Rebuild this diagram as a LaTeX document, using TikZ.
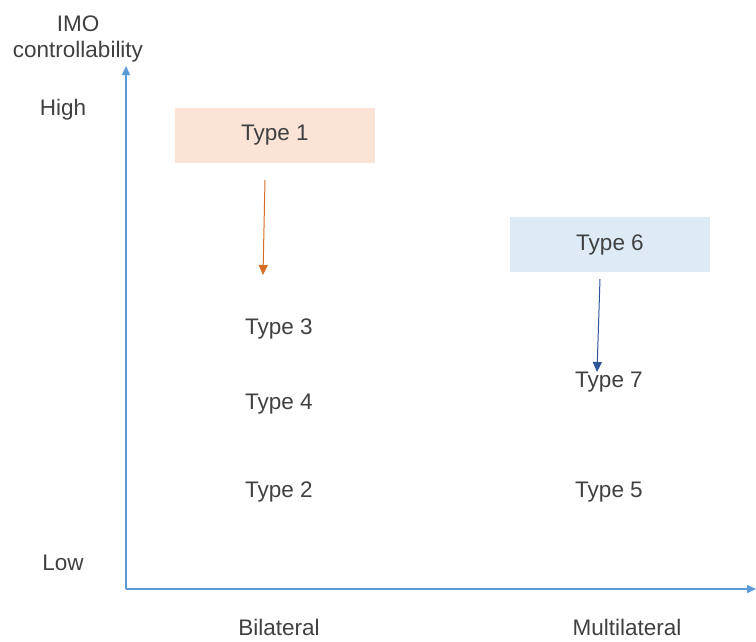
\documentclass[tikz,border=0pt]{standalone}
\usepackage{fontspec}
\setmainfont{Liberation Sans}
\usetikzlibrary{positioning, arrows.meta}
\definecolor{AxisBlue}{RGB}{91, 155, 213}
\definecolor{TextGray}{RGB}{64, 64, 64}
\definecolor{LightOrange}{RGB}{251, 228, 214}
\definecolor{LightBlue}{RGB}{222, 235, 247}
\definecolor{AccentOrange}{RGB}{214, 110, 40}
\definecolor{DarkBlue}{RGB}{47, 85, 151}

\begin{document}
\begin{tikzpicture}[x=1pt, y=-1pt,
    txt/.style={font=\fontsize{22.5}{26}\selectfont, text=TextGray, inner sep=0pt},
    typebox/.style={txt, minimum width=200pt, minimum height=55pt}]
      \useasboundingbox (0,0) rectangle (756,641);

      % Axes
      \coordinate (orig) at (126,589);
      \coordinate (ytop) at (126,66);
      \coordinate (xend) at (756,589);
      \draw[AxisBlue, line width=1.5pt, -{Triangle[length=9pt, width=8pt]}] (orig) -- (ytop);
      \draw[AxisBlue, line width=1.5pt, -{Triangle[length=9pt, width=8pt]}] (orig) -- (xend);

      % Axis labels
      \node[txt] (imo) at (78,24) {IMO};
      \node[txt] (ctrl) at (78,52) {controllability};
      \node[txt] (high) at (63,110) {High};
      \node[txt] (low) at (63,563) {Low};
      \node[txt] (bilat) at (279,627) {Bilateral};
      \node[txt] (multi) at (627,627) {Multilateral};

      % Boxes
      \node[typebox, fill=LightOrange] (t1) at (275,135.5) {Type 1};
      \node[typebox, fill=LightBlue] (t6) at (610,244.5) {Type 6};

      % Other types
      \node[txt] (t3) at (279,329) {Type 3};
      \node[txt] (t4) at (279,404) {Type 4};
      \node[txt] (t2) at (279,492) {Type 2};
      \node[txt] (t7) at (609,382) {Type 7};
      \node[txt] (t5) at (609,492) {Type 5};

      % Shifts
      \coordinate (a1s) at (265,180);
      \coordinate (a1e) at (263,275);
      \coordinate (a6s) at (600,279);
      \coordinate (a6e) at (597,372);
      \draw[AccentOrange, line width=1pt, -{Triangle[length=10pt, width=9pt]}] (a1s) -- (a1e);
      \draw[DarkBlue, line width=1pt, -{Triangle[length=10pt, width=9pt]}] (a6s) -- (a6e);
\end{tikzpicture}
\end{document}
